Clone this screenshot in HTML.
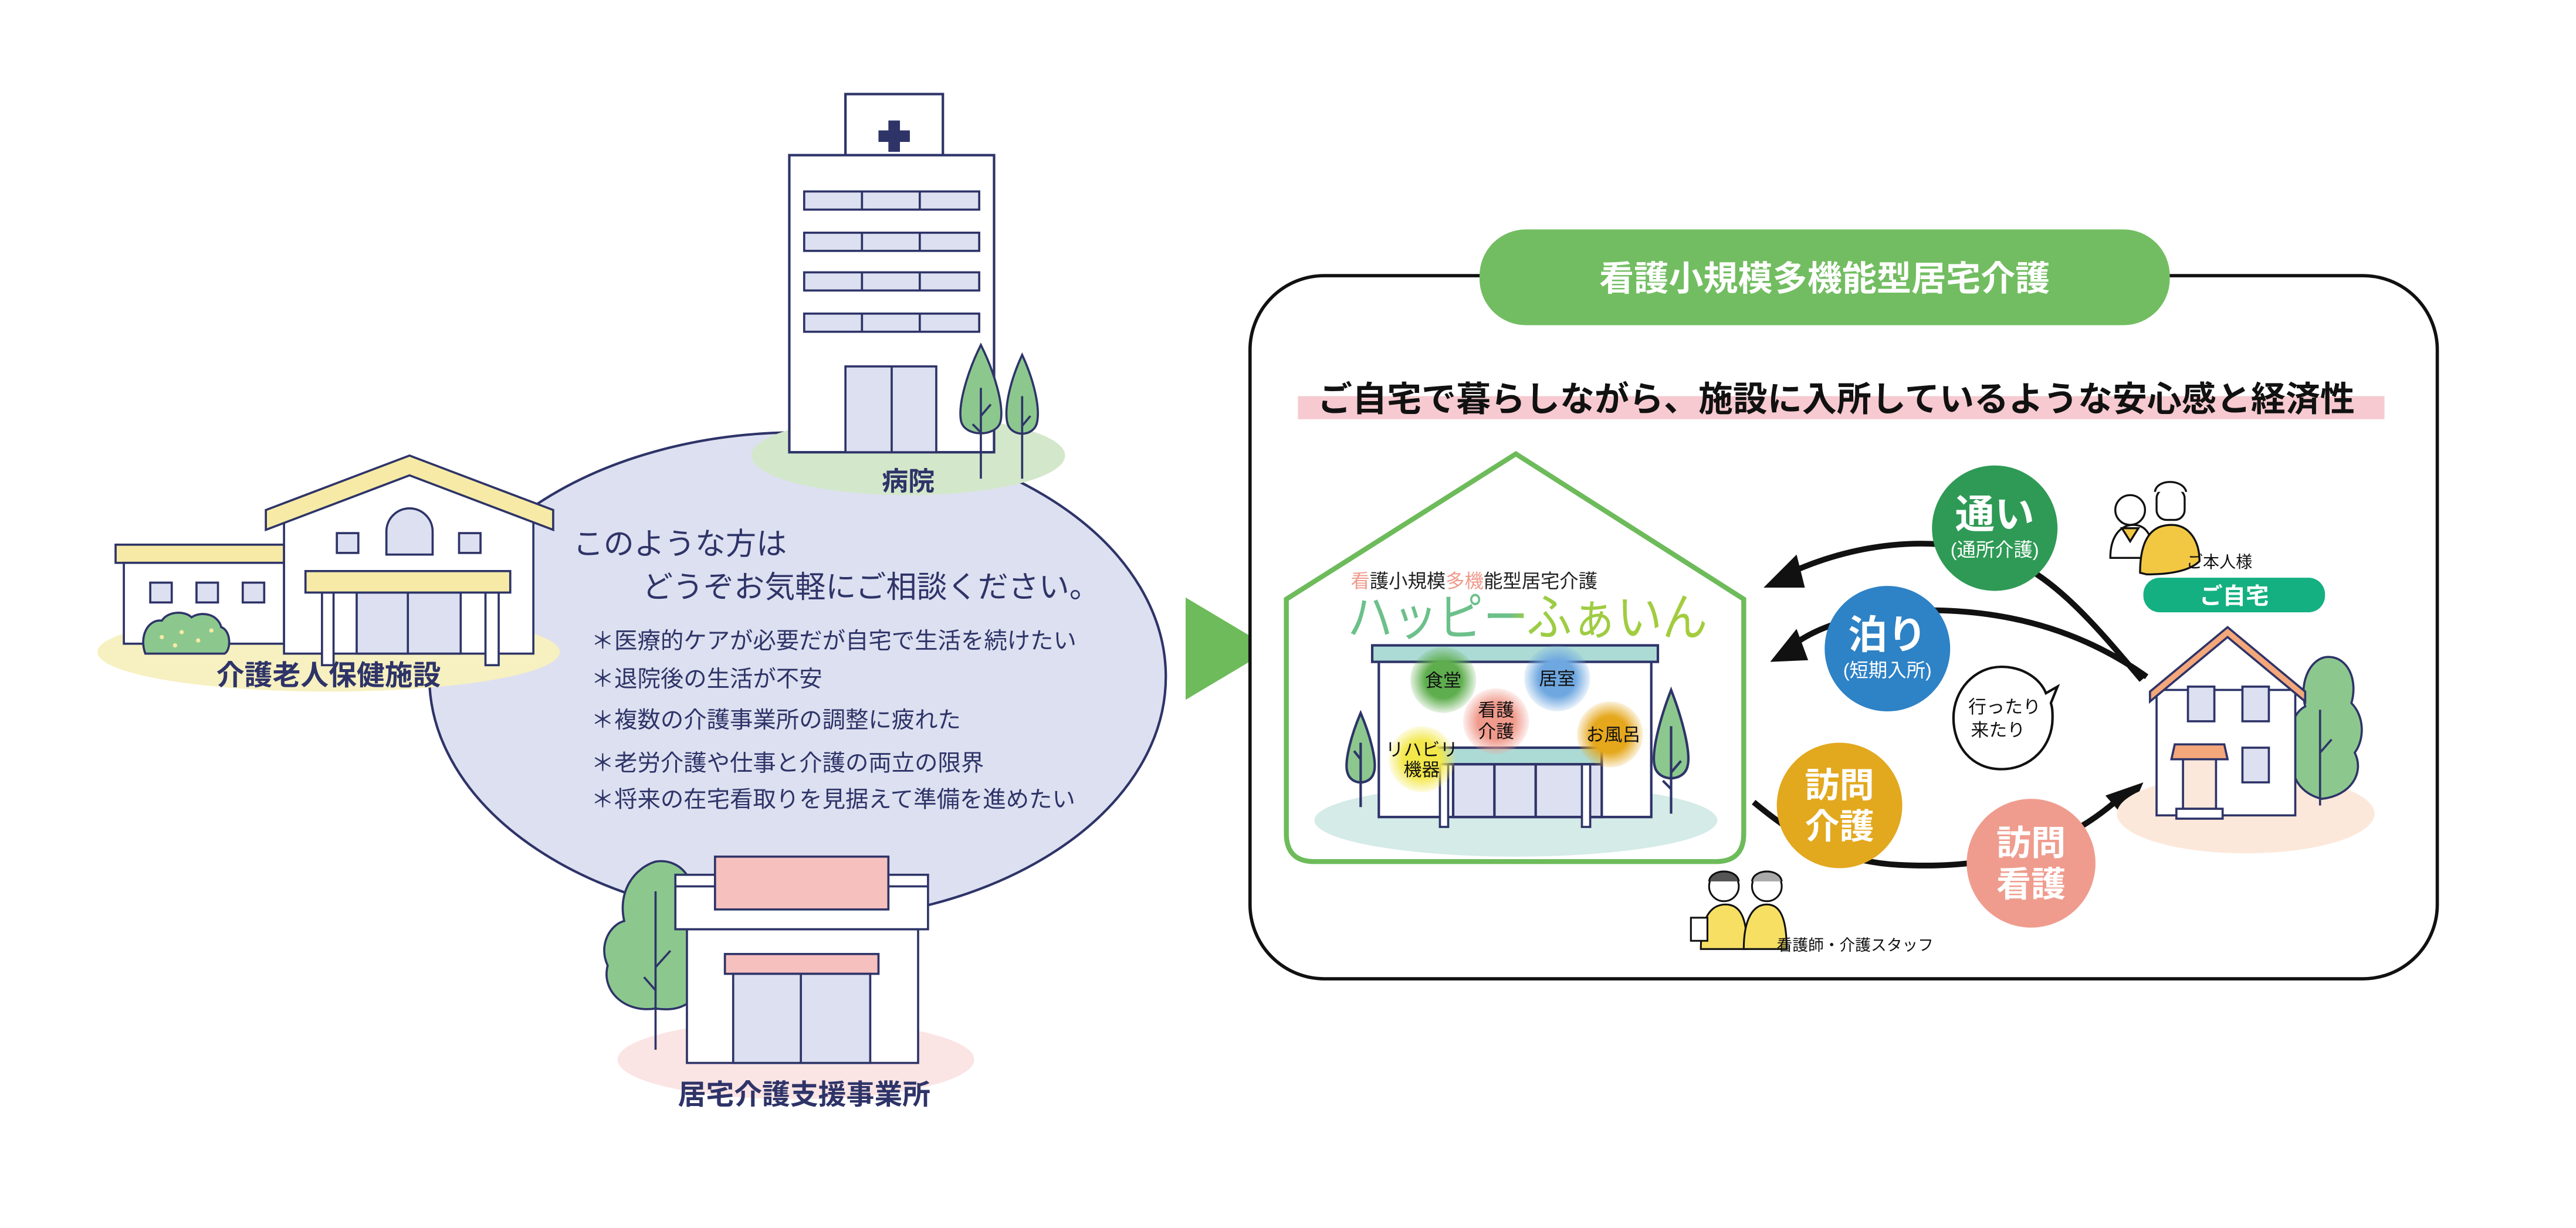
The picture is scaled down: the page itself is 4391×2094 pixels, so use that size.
<!DOCTYPE html>
<html><head><meta charset="utf-8"><style>
html,body{margin:0;padding:0;background:#fff;}
svg{display:block;}
text{font-family:"Liberation Sans","Noto Sans CJK JP",sans-serif;}
</style></head><body>
<svg width="4391" height="2094" viewBox="0 0 1560 744" preserveAspectRatio="none" xmlns="http://www.w3.org/2000/svg">
<defs>
<radialGradient id="gG"><stop offset="0.55" stop-color="#5fae4e"/><stop offset="1" stop-color="#5fae4e" stop-opacity="0.15"/></radialGradient>
<radialGradient id="gB"><stop offset="0.55" stop-color="#6fa8e0"/><stop offset="1" stop-color="#6fa8e0" stop-opacity="0.15"/></radialGradient>
<radialGradient id="gP"><stop offset="0.55" stop-color="#f09a8c"/><stop offset="1" stop-color="#f09a8c" stop-opacity="0.15"/></radialGradient>
<radialGradient id="gO"><stop offset="0.55" stop-color="#e5a71c"/><stop offset="1" stop-color="#e5a71c" stop-opacity="0.15"/></radialGradient>
<radialGradient id="gY"><stop offset="0.55" stop-color="#f3e84a"/><stop offset="1" stop-color="#f3e84a" stop-opacity="0.15"/></radialGradient>
<linearGradient id="tg" x1="0" x2="1"><stop offset="0" stop-color="#6cc08a"/><stop offset="0.45" stop-color="#6cc08a"/><stop offset="0.5" stop-color="#9ccc45"/><stop offset="1" stop-color="#a4cc3c"/></linearGradient>
</defs>

<!-- ellipse -->
<ellipse cx="483" cy="410" rx="223" ry="148" fill="#dde0f0" stroke="#2e3468" stroke-width="1.5"/>

<!-- hospital -->
<ellipse cx="550" cy="276" rx="95" ry="24" fill="#d3e7cb"/>
<rect x="512" y="57" width="59" height="37" fill="#fff" stroke="#2e3468" stroke-width="1.5"/>
<path d="M538 73h7v6h6v7h-6v6h-7v-6h-6v-7h6z" fill="#2e3468"/>
<rect x="478" y="94" width="124" height="180" fill="#fff" stroke="#2e3468" stroke-width="1.5"/>
<g fill="#dde0f0" stroke="#2e3468" stroke-width="1.3">
<rect x="487" y="116" width="106" height="11"/><rect x="487" y="141" width="106" height="11"/>
<rect x="487" y="165" width="106" height="11"/><rect x="487" y="190" width="106" height="11"/>
<rect x="512" y="222" width="55" height="52"/>
</g>
<g stroke="#2e3468" stroke-width="1.3"><path d="M522 116v11M557 116v11M522 141v11M557 141v11M522 165v11M557 165v11M522 190v11M557 190v11M540 222v52"/></g>
<g fill="#8cc88e" stroke="#2e3468" stroke-width="1.3">
<path d="M594 209 C586 225 580 245 582 255 C584 265 604 265 606 255 C608 245 602 225 594 209Z"/>
<path d="M619 215 C612 230 608 247 610 256 C612 265 626 265 628 256 C630 247 626 230 619 215Z"/>
</g>
<path d="M594 235v55M594 252l6-7M594 262l-5-5M619 240v50M619 258l5-6" stroke="#2e3468" stroke-width="1.3" fill="none"/>
<text x="550" y="297" font-size="16" font-weight="bold" fill="#2e3468" text-anchor="middle">病院</text>

<!-- nursing home -->
<ellipse cx="199" cy="395" rx="140" ry="24" fill="#f7f0c0"/>
<rect x="70" y="330" width="102" height="11" fill="#f6eaa6" stroke="#2e3468" stroke-width="1.3"/>
<rect x="75" y="341" width="97" height="49" fill="#fff" stroke="#2e3468" stroke-width="1.3"/>
<g fill="#dde0f0" stroke="#2e3468" stroke-width="1.3">
<rect x="91" y="353" width="13" height="12"/><rect x="119" y="353" width="13" height="12"/><rect x="147" y="353" width="13" height="12"/>
</g>
<path d="M172 306 L248 282 L323 306 L323 396 L172 396Z" fill="#fff" stroke="#2e3468" stroke-width="1.3"/>
<path d="M161 309 L248 276 L335 309 L335 321 L248 288 L161 321Z" fill="#f6eaa6" stroke="#2e3468" stroke-width="1.3"/>
<path d="M234 336 V322 A14 14 0 0 1 262 322 V336Z" fill="#dde0f0" stroke="#2e3468" stroke-width="1.3"/>
<rect x="204" y="323" width="13" height="12" fill="#dde0f0" stroke="#2e3468" stroke-width="1.3"/>
<rect x="278" y="323" width="13" height="12" fill="#dde0f0" stroke="#2e3468" stroke-width="1.3"/>
<rect x="216" y="359" width="63" height="37" fill="#dde0f0" stroke="#2e3468" stroke-width="1.3"/>
<path d="M247 359v37" stroke="#2e3468" stroke-width="1.3"/>
<rect x="195" y="359" width="7" height="44" fill="#fff" stroke="#2e3468" stroke-width="1.3"/>
<rect x="294" y="359" width="8" height="44" fill="#fff" stroke="#2e3468" stroke-width="1.3"/>
<rect x="185" y="346" width="124" height="13" fill="#f6eaa6" stroke="#2e3468" stroke-width="1.3"/>
<path d="M88 396 C84 385 90 375 98 376 C102 370 112 370 116 374 C122 370 132 372 134 380 C140 382 140 394 136 396Z" fill="#8cc88e" stroke="#2e3468" stroke-width="1.3"/>
<g fill="#f6eaa6"><circle cx="98" cy="386" r="1.3"/><circle cx="110" cy="383" r="1.3"/><circle cx="120" cy="388" r="1.3"/><circle cx="128" cy="382" r="1.3"/><circle cx="106" cy="391" r="1.3"/></g>
<text x="199" y="415" font-size="17" font-weight="bold" fill="#2e3468" text-anchor="middle">介護老人保健施設</text>

<!-- ellipse texts -->
<text x="347" y="336" font-size="18.5" fill="#2e3468">このような方は</text>
<text x="389" y="362" font-size="18.5" fill="#2e3468">どうぞお気軽にご相談ください。</text>
<g font-size="14" fill="#2e3468">
<text x="358" y="393">＊医療的ケアが必要だが自宅で生活を続けたい</text>
<text x="358" y="416">＊退院後の生活が不安</text>
<text x="358" y="441">＊複数の介護事業所の調整に疲れた</text>
<text x="358" y="467">＊老労介護や仕事と介護の両立の限界</text>
<text x="358" y="489">＊将来の在宅看取りを見据えて準備を進めたい</text>
</g>

<!-- store -->
<ellipse cx="482" cy="642" rx="108" ry="24" fill="#fbe4e4"/>
<path d="M397 611 C378 614 364 600 368 585 C362 572 370 560 378 558 C374 540 384 526 397 522 C410 520 419 530 419 540 L419 606 C412 612 404 612 397 611Z" fill="#8cc88e" stroke="#2e3468" stroke-width="1.3"/>
<path d="M397 540v96M397 586l9-10M397 600l-7-8" stroke="#2e3468" stroke-width="1.3" fill="none"/>
<rect x="416" y="563" width="140" height="81" fill="#fff" stroke="#2e3468" stroke-width="1.3"/>
<rect x="409" y="530" width="153" height="33" fill="#fff" stroke="#2e3468" stroke-width="1.3"/>
<path d="M409 537h153" stroke="#2e3468" stroke-width="1.3"/>
<rect x="433" y="519" width="105" height="32" fill="#f6c0be" stroke="#2e3468" stroke-width="1.3"/>
<rect x="439" y="578" width="93" height="12" fill="#f6c0be" stroke="#2e3468" stroke-width="1.3"/>
<rect x="444" y="590" width="83" height="54" fill="#dde0f0" stroke="#2e3468" stroke-width="1.3"/>
<path d="M485 590v54" stroke="#2e3468" stroke-width="1.3"/>
<text x="487" y="669" font-size="17" font-weight="bold" fill="#2e3468" text-anchor="middle">居宅介護支援事業所</text>

<!-- arrow triangle -->
<path d="M718 362 L770 393 L718 424Z" fill="#6dbb5a"/>

<!-- right box -->
<rect x="757" y="167" width="719" height="426" rx="45" fill="#fff" stroke="#111" stroke-width="2"/>
<rect x="896" y="139" width="418" height="58" rx="28" fill="#72bd61"/>
<text x="1105" y="176" font-size="21" fill="#fff" text-anchor="middle" font-weight="bold">看護小規模多機能型居宅介護</text>
<rect x="786" y="240" width="658" height="14" fill="#f6cad0"/>
<text x="1112" y="249" font-size="21" font-weight="bold" fill="#111" text-anchor="middle" textLength="628" lengthAdjust="spacingAndGlyphs">ご自宅で暮らしながら、施設に入所しているような安心感と経済性</text>

<!-- facility house -->
<path d="M779 363 L918 275 L1056 363 L1056 505 Q1056 522 1039 522 L796 522 Q779 522 779 505Z" fill="#fff" stroke="#6dbb5a" stroke-width="3"/>
<text x="818" y="356" font-size="11.5" fill="#222"><tspan fill="#f09a8c">看</tspan>護小規模<tspan fill="#f09a8c">多機</tspan>能型居宅介護</text>
<text x="816" y="385" font-size="31" fill="url(#tg)" textLength="218" lengthAdjust="spacingAndGlyphs">ハッピーふぁいん</text>
<ellipse cx="918" cy="497" rx="122" ry="22" fill="#d4ebe8"/>
<rect x="835" y="400" width="165" height="95" fill="#fff" stroke="#2e3468" stroke-width="1.5"/>
<rect x="831" y="391" width="173" height="10" fill="#acdbd6" stroke="#2e3468" stroke-width="1.5"/>
<rect x="880" y="463" width="90" height="32" fill="#dde0f0" stroke="#2e3468" stroke-width="1.5"/>
<path d="M905 463v32M930 463v32" stroke="#2e3468" stroke-width="1.5"/>
<rect x="872" y="463" width="5" height="38" fill="#fff" stroke="#2e3468" stroke-width="1.3"/>
<rect x="958" y="463" width="5" height="38" fill="#fff" stroke="#2e3468" stroke-width="1.3"/>
<rect x="866" y="453" width="104" height="10" fill="#acdbd6" stroke="#2e3468" stroke-width="1.5"/>
<g fill="#8cc88e" stroke="#2e3468" stroke-width="1.5">
<path d="M824 432 C818 446 814 462 816 468 C818 476 830 476 832 468 C834 462 830 446 824 432Z"/>
<path d="M1012 418 C1005 436 1000 456 1002 464 C1004 474 1020 474 1022 464 C1024 456 1019 436 1012 418Z"/>
</g>
<path d="M824 450v39M824 460l-4-5M1012 440v53M1012 468l6-7M1012 478l-5-5" stroke="#2e3468" stroke-width="1.5" fill="none"/>
<circle cx="874" cy="412" r="20" fill="url(#gG)"/>
<circle cx="943" cy="411" r="20" fill="url(#gB)"/>
<circle cx="906" cy="437" r="20" fill="url(#gP)"/>
<circle cx="975" cy="445" r="20" fill="url(#gO)"/>
<circle cx="861" cy="460" r="20" fill="url(#gY)"/>
<g font-size="11" fill="#111" text-anchor="middle">
<text x="874" y="416">食堂</text>
<text x="943" y="415">居室</text>
<text x="906" y="434">看護</text><text x="906" y="447">介護</text>
<text x="977" y="449">お風呂</text>
<text x="861" y="458">リハビリ</text><text x="861" y="470">機器</text>
</g>

<!-- arrows -->
<g fill="none" stroke="#111" stroke-width="3.5">
<path d="M1297 412 C1270 380 1245 350 1215 338 C1170 322 1120 330 1082 348"/>
<path d="M1300 410 C1265 385 1225 372 1180 370 C1135 368 1100 378 1082 394"/>
<path d="M1062 486 C1085 505 1110 522 1150 524 C1190 526 1240 522 1283 484"/>
</g>
<path d="M1068 356 L1088 336 L1093 356Z" fill="#111"/>
<path d="M1072 401 L1088 381 L1095 400Z" fill="#111"/>
<path d="M1298 474 L1288 497 L1275 482Z" fill="#111"/>

<!-- service circles -->
<circle cx="1208" cy="320" r="38" fill="#2e9a55"/>
<text x="1208" y="320" font-size="24" font-weight="bold" fill="#fff" text-anchor="middle">通い</text>
<text x="1208" y="337" font-size="11.5" fill="#fff" text-anchor="middle">(通所介護)</text>
<circle cx="1143" cy="393" r="38" fill="#2e82c6"/>
<text x="1143" y="393" font-size="24" font-weight="bold" fill="#fff" text-anchor="middle">泊り</text>
<text x="1143" y="410" font-size="11.5" fill="#fff" text-anchor="middle">(短期入所)</text>
<circle cx="1114" cy="488" r="38" fill="#e2a81e"/>
<text x="1114" y="483" font-size="21" font-weight="bold" fill="#fff" text-anchor="middle">訪問</text>
<text x="1114" y="508" font-size="21" font-weight="bold" fill="#fff" text-anchor="middle">介護</text>
<circle cx="1230" cy="523" r="39" fill="#ef9c8e"/>
<text x="1230" y="518" font-size="21" font-weight="bold" fill="#fff" text-anchor="middle">訪問</text>
<text x="1230" y="543" font-size="21" font-weight="bold" fill="#fff" text-anchor="middle">看護</text>

<!-- speech bubble -->
<path d="M1212 466 C1194 466 1183 452 1183 435 C1183 418 1196 404 1212 404 C1226 404 1236 412 1239 420 L1246 416 L1242 426 C1243 429 1243 432 1243 435 C1243 452 1230 466 1212 466Z" fill="#fff" stroke="#111" stroke-width="1.5"/>
<text x="1214" y="432" font-size="11" fill="#111" text-anchor="middle">行ったり</text>
<text x="1210" y="446" font-size="11" fill="#111" text-anchor="middle">来たり</text>

<!-- elderly -->
<g stroke="#111" stroke-width="1.2">
<path d="M1278 338 C1278 325 1284 318 1292 318 C1300 318 1304 325 1304 338Z" fill="#fff"/>
<circle cx="1290" cy="309" r="9" fill="#fff"/>
<path d="M1285 320 l5 8 l5 -8Z" fill="#f2c843"/>
<path d="M1296 347 C1296 328 1302 318 1315 318 C1326 318 1332 328 1332 340 C1326 346 1314 348 1300 348Z" fill="#f2c843"/>
<rect x="1306" y="296" width="17" height="19" rx="6" fill="#fff"/>
<path d="M1305 298 C1306 290 1322 290 1324 298" fill="#fff"/>
</g>
<text x="1324" y="344" font-size="10" fill="#111">ご本人様</text>
<rect x="1298" y="350" width="110" height="21" rx="10" fill="#14b081"/>
<text x="1353" y="366" font-size="14" font-weight="bold" fill="#fff" text-anchor="middle">ご自宅</text>

<!-- right house -->
<ellipse cx="1360" cy="493" rx="78" ry="24" fill="#fce8da"/>
<path d="M1406 484 C1390 480 1386 466 1390 458 C1384 446 1388 432 1396 428 C1392 412 1400 398 1410 398 C1422 398 1428 412 1424 426 C1432 434 1432 448 1426 456 C1432 468 1424 482 1406 484Z" fill="#8cc88e" stroke="#2e3468" stroke-width="1.3"/>
<path d="M1405 430v58M1405 456l7-8" stroke="#2e3468" stroke-width="1.3" fill="none"/>
<rect x="1306" y="418" width="84" height="76" fill="#fff" stroke="#2e3468" stroke-width="1.3"/>
<path d="M1302 425 L1349 386 L1396 425 L1396 419 L1349 380 L1302 419Z" fill="#f4a77a" stroke="#2e3468" stroke-width="1.3"/>
<g fill="#dde0f0" stroke="#2e3468" stroke-width="1.3">
<rect x="1325" y="416" width="16" height="21"/><rect x="1358" y="416" width="16" height="21"/><rect x="1358" y="453" width="16" height="21"/>
</g>
<rect x="1322" y="460" width="20" height="30" fill="#fce8da" stroke="#2e3468" stroke-width="1.3"/>
<path d="M1317 451 h30 l2 9 h-34Z" fill="#f4a77a" stroke="#2e3468" stroke-width="1.3"/>
<rect x="1318" y="490" width="28" height="6" fill="#fff" stroke="#2e3468" stroke-width="1.3"/>

<!-- staff -->
<g stroke="#111" stroke-width="1.1">
<path d="M1030 575 C1030 556 1036 548 1045 548 C1054 548 1058 556 1058 575Z" fill="#f6df62"/>
<circle cx="1044" cy="537" r="9" fill="#fff"/>
<path d="M1035 534 C1036 526 1052 526 1053 534" fill="#555"/>
<path d="M1056 575 C1056 556 1062 548 1070 548 C1078 548 1082 556 1082 575Z" fill="#f6df62"/>
<circle cx="1070" cy="537" r="9" fill="#fff"/>
<path d="M1061 534 C1062 526 1078 526 1079 534" fill="#aaa"/>
<rect x="1024" y="556" width="10" height="14" fill="#fff"/>
</g>
<text x="1076" y="576" font-size="9.5" fill="#111">看護師・介護スタッフ</text>
</svg>
</body></html>
